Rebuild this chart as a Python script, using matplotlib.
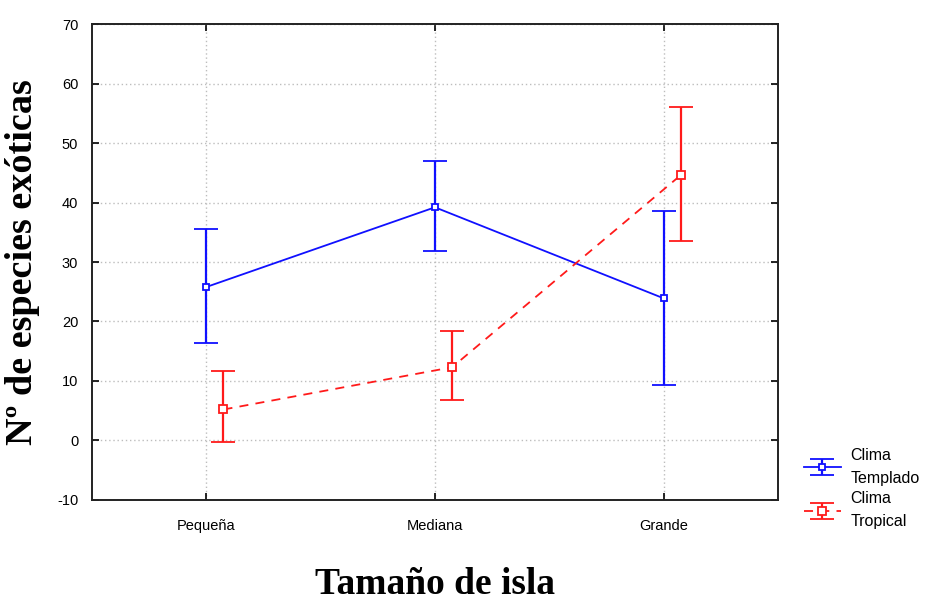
import matplotlib.pyplot as plt
import numpy as np

# categories and values
categories = ["Pequeña", "Mediana", "Grande"]

templado_mean = [25.8, 39.2, 23.9]
templado_low = [16.4, 31.9, 9.3]
templado_high = [35.5, 46.9, 38.5]

tropical_mean = [5.2, 12.3, 44.6]
tropical_low = [-0.3, 6.8, 33.5]
tropical_high = [11.7, 18.4, 56.0]

plt.rcParams['font.family'] = ['Liberation Sans', 'DejaVu Sans']
plt.rcParams['axes.unicode_minus'] = False

fig = plt.figure(figsize=(9.44, 6.03), dpi=100)
ax = fig.add_axes([0.0975, 0.171, 0.7265, 0.789])

x = np.arange(1, len(categories) + 1)
off = 0.075

tm = np.array(templado_mean)
te = [tm - np.array(templado_low), np.array(templado_high) - tm]
rm = np.array(tropical_mean)
re = [rm - np.array(tropical_low), np.array(tropical_high) - rm]

h1 = ax.errorbar(x, tm, yerr=te, color='#1010ff', lw=1.3, capsize=8.5,
                 capthick=1.6, elinewidth=1.6, marker='s', ms=5,
                 mfc='white', mec='#1010ff', mew=1.3, ls='-',
                 label='Clima\nTemplado')
h2 = ax.errorbar(x + off, rm, yerr=re, color='#ff1a1a', lw=1.3, capsize=8.5,
                 capthick=1.6, elinewidth=1.6, marker='s', ms=6,
                 mfc='white', mec='#ff1a1a', mew=1.3, ls=(0, (5, 4)),
                 label='Clima\nTropical')

ax.set_xlim(0.5, 3.5)
ax.set_ylim(-10, 70)
ax.set_xticks(x)
ax.set_xticklabels(categories)
ax.set_yticks(np.arange(-10, 71, 10))
ax.grid(True, color='#bdbdbd', ls=(0, (1, 2)), lw=1)
ax.set_axisbelow(True)
ax.tick_params(direction='in', top=True, right=True, length=5, width=1.2,
               labelsize=10.5)
ax.tick_params(axis='x', pad=14)
ax.tick_params(axis='y', pad=10)
for s in ax.spines.values():
    s.set_linewidth(1.4)
    s.set_color('#222222')

ax.set_ylabel("Nº de especies exóticas", family=['Liberation Serif', 'DejaVu Serif'],
              fontsize=27.5, fontweight='bold', labelpad=12)
ax.set_xlabel("Tamaño de isla", family=['Liberation Serif', 'DejaVu Serif'],
              fontsize=27, fontweight='bold', labelpad=24)

leg = fig.legend(handles=[h1, h2], loc='upper left',
                 bbox_to_anchor=(0.845, 0.268), frameon=False,
                 fontsize=11.5, handlelength=2.3, handletextpad=0.6,
                 labelspacing=0.3, borderaxespad=0)
for t in leg.get_texts():
    t.set_linespacing(1.7)

fig.savefig("out.png", dpi=100)
